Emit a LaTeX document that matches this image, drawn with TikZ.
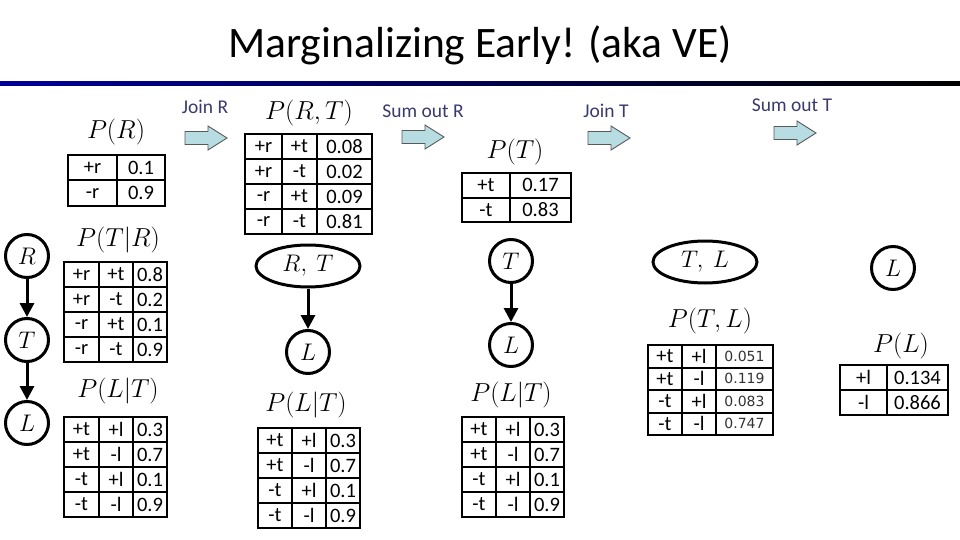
\RequirePackage{fix-cm}
\documentclass[tikz,border=0pt]{standalone}
\usepackage[no-math]{fontspec}
\setmainfont{Carlito}
\newfontfamily\widefont{DejaVu Sans}
\usetikzlibrary{arrows.meta,positioning,shapes.geometric}
\definecolor{stepcol}{RGB}{58,58,108}
\definecolor{arrowfill}{RGB}{183,221,226}
\tikzset{
  var/.style={circle,draw,line width=3pt,minimum size=43pt,inner sep=0pt,font=\fontsize{24}{28}\selectfont},
  joint/.style={ellipse,draw,line width=3pt,minimum width=104pt,minimum height=42pt,inner sep=0pt,font=\fontsize{24}{28}\selectfont},
  edge/.style={line width=3pt,-{Triangle[width=14pt,length=14pt]}},
  factor/.style={font=\fontsize{26}{30}\selectfont},
  cell/.style={font=\fontsize{20.5}{24}\selectfont,inner sep=0pt},
  smallval/.style={font=\widefont\fontsize{14}{17}\selectfont,text=black!80,inner sep=0pt},
  tabline/.style={line width=2pt},
  op/.style={text=stepcol,font=\fontsize{19.5}{23}\selectfont},
  blockarrow/.pic={\draw[fill=arrowfill,draw=black!65,line width=0.9pt] (0,-6.5) -- (23,-6.5) -- (23,-12) -- (42,0) -- (23,12) -- (23,6.5) -- (0,6.5) -- cycle;}
}
\begin{document}
\begin{tikzpicture}[x=1pt,y=-1pt]
\useasboundingbox (0,0) rectangle (960,540);
\fill[white] (0,0) rectangle (960,540);
% title and bar
\node[anchor=base,font=\fontsize{43.5}{50}\selectfont] (title) at (480,58) {Marginalizing Early! (aka VE)};
\shade[left color=blue!60!black,right color=black] (0,82) rectangle (960,86);
% steps
\node[op] (joinR) at (205,107) {Join R};
\pic at (185,138) {blockarrow};
\node[op] (sumR) at (423,111) {Sum out R};
\pic at (402,137) {blockarrow};
\node[op] (joinT) at (606,111) {Join T};
\pic at (588,138) {blockarrow};
\node[op] (sumT) at (792,105) {Sum out T};
\pic at (774,133) {blockarrow};
% networks
\node[var] (R) at (27,256) {$R$};
\node[var] (T) at (27,340) {$T$};
\node[var] (L) at (27,423) {$L$};
\draw[edge] (R) -- (T);
\draw[edge] (T) -- (L);
\node[joint] (RT) at (308,266) {$R,\ T$};
\node[var] (L2) at (308,352) {$L$};
\draw[edge] (RT) -- (L2);
\node[var] (T3) at (511,261) {$T$};
\node[var] (L3) at (511,345) {$L$};
\draw[edge] (T3) -- (L3);
\node[joint] (TL) at (705,262) {$T,\ L$};
\node[var] (L4) at (893,268) {$L$};
% factor names
\node[factor] (fR) at (116,132) {$P(R)$};
\node[factor] (fTR) at (118,240) {$P(T|R)$};
\node[factor] (fLT) at (118,391) {$P(L|T)$};
\node[factor] (fRT) at (309,113) {$P(R,T)$};
\node[factor] (fT) at (515,152) {$P(T)$};
\node[factor] (fLT2) at (306,405) {$P(L|T)$};
\node[factor] (fLT3) at (511,395) {$P(L|T)$};
\node[factor] (fTL) at (710,321) {$P(T,L)$};
\node[factor] (fL) at (901,346) {$P(L)$};
% P(R)
\draw[tabline] (68,155) rectangle (165,206) (117,155) -- (117,206) (68,180.5) -- (165,180.5);
\foreach \a/\v [count=\i] in {+r/0.1,-r/0.9} {
  \node[cell] (pr\i) at (92.5,142.25+25.5*\i) {\a};
  \node[cell] (prv\i) at (141,142.25+25.5*\i) {\v};
}
% P(T|R)
\draw[tabline] (64,262) rectangle (167,362) (99,262) -- (99,362) (133,262) -- (133,362);
\foreach \k in {1,2,3} \draw[tabline] (64,262+25*\k) -- (167,262+25*\k);
\foreach \a/\b/\v [count=\i] in {+r/+t/0.8,+r/-t/0.2,-r/+t/0.1,-r/-t/0.9} {
  \node[cell] (tra\i) at (81.5,249.5+25*\i) {\a};
  \node[cell] (trb\i) at (116,249.5+25*\i) {\b};
  \node[cell] (trv\i) at (150,249.5+25*\i) {\v};
}
% P(L|T), left
\draw[tabline] (64,417) rectangle (167,517) (99,417) -- (99,517) (133,417) -- (133,517);
\foreach \k in {1,2,3} \draw[tabline] (64,417+25*\k) -- (167,417+25*\k);
\foreach \a/\b/\v [count=\i] in {+t/+l/0.3,+t/-l/0.7,-t/+l/0.1,-t/-l/0.9} {
  \node[cell] (lta\i) at (81.5,404.5+25*\i) {\a};
  \node[cell] (ltb\i) at (116,404.5+25*\i) {\b};
  \node[cell] (ltv\i) at (150,404.5+25*\i) {\v};
}
% P(R,T)
\draw[tabline] (245,134) rectangle (372,234) (282,134) -- (282,234) (317,134) -- (317,234);
\foreach \k in {1,2,3} \draw[tabline] (245,134+25*\k) -- (372,134+25*\k);
\foreach \a/\b/\v [count=\i] in {+r/+t/0.08,+r/-t/0.02,-r/+t/0.09,-r/-t/0.81} {
  \node[cell] (rta\i) at (263.5,121.5+25*\i) {\a};
  \node[cell] (rtb\i) at (299.5,121.5+25*\i) {\b};
  \node[cell] (rtv\i) at (344.5,121.5+25*\i) {\v};
}
% P(T)
\draw[tabline] (462,173) rectangle (571,222) (510,173) -- (510,222) (462,197.5) -- (571,197.5);
\foreach \a/\v [count=\i] in {+t/0.17,-t/0.83} {
  \node[cell] (pt\i) at (486,160.75+24.5*\i) {\a};
  \node[cell] (ptv\i) at (540.5,160.75+24.5*\i) {\v};
}
% P(L|T), middle
\draw[tabline] (258,428) rectangle (360,528) (292,428) -- (292,528) (326,428) -- (326,528);
\foreach \k in {1,2,3} \draw[tabline] (258,428+25*\k) -- (360,428+25*\k);
\foreach \a/\b/\v [count=\i] in {+t/+l/0.3,+t/-l/0.7,-t/+l/0.1,-t/-l/0.9} {
  \node[cell] (mla\i) at (275,415.5+25*\i) {\a};
  \node[cell] (mlb\i) at (309,415.5+25*\i) {\b};
  \node[cell] (mlv\i) at (343,415.5+25*\i) {\v};
}
% P(L|T), right
\draw[tabline] (462,417) rectangle (564,517) (496,417) -- (496,517) (530,417) -- (530,517);
\foreach \k in {1,2,3} \draw[tabline] (462,417+25*\k) -- (564,417+25*\k);
\foreach \a/\b/\v [count=\i] in {+t/+l/0.3,+t/-l/0.7,-t/+l/0.1,-t/-l/0.9} {
  \node[cell] (rla\i) at (479,404.5+25*\i) {\a};
  \node[cell] (rlb\i) at (513,404.5+25*\i) {\b};
  \node[cell] (rlv\i) at (547,404.5+25*\i) {\v};
}
% P(T,L)
\draw[tabline] (648,345) rectangle (773,435) (682,345) -- (682,435) (716,345) -- (716,435);
\foreach \k in {1,2,3} \draw[tabline] (648,345+22.5*\k) -- (773,345+22.5*\k);
\foreach \a/\b/\v [count=\i] in {+t/+l/0.051,+t/-l/0.119,-t/+l/0.083,-t/-l/0.747} {
  \node[cell] (tla\i) at (665,333.75+22.5*\i) {\a};
  \node[cell] (tlb\i) at (699,333.75+22.5*\i) {\b};
  \node[smallval] (tlv\i) at (744.5,333.75+22.5*\i) {\v};
}
% P(L)
\draw[tabline] (840,365) rectangle (948,415) (887,365) -- (887,415) (840,390) -- (948,390);
\foreach \a/\v [count=\i] in {+l/0.134,-l/0.866} {
  \node[cell] (pl\i) at (863.5,352.5+25*\i) {\a};
  \node[cell] (plv\i) at (917.5,352.5+25*\i) {\v};
}
\end{tikzpicture}
\end{document}
